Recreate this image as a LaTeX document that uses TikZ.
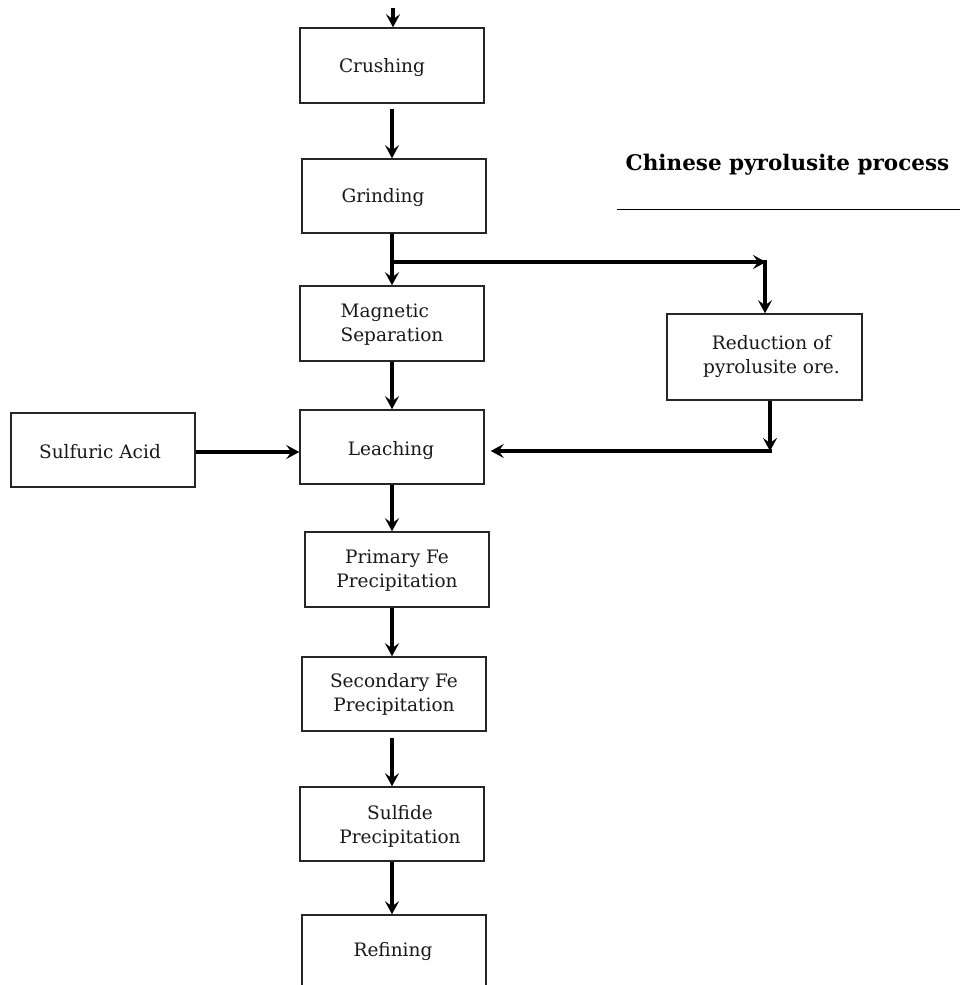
\documentclass[tikz,border=0pt]{standalone}
\usepackage{fontspec}
\setmainfont{DejaVu Serif}
\usetikzlibrary{arrows.meta}
\begin{document}
\begin{tikzpicture}[x=1pt,y=-1pt,
  box/.style={draw=black!85,line width=1.5pt,minimum width=184pt,minimum height=74pt,inner sep=0pt},
  lbl/.style={font=\fontsize{18.5}{24}\selectfont,align=center,inner sep=0pt,text=black!90},
  flow/.style={line width=4pt,-{Stealth[length=13pt,width=14pt,inset=5pt]}},
  plain/.style={line width=4pt}]
\useasboundingbox (0,0) rectangle (960,985);
% boxes
\node[box,minimum height=75pt,label={[lbl,xshift=-10pt,yshift=-2pt]center:Crushing}] (crush) at (392,65.5) {};
\node[box,label={[lbl,xshift=-11pt,yshift=-2pt]center:Grinding}] (grind) at (394,196) {};
\node[box,minimum height=75pt,label={[lbl,align=left,yshift=-1pt]center:Magnetic\\Separation}] (mag) at (392,323.5) {};
\node[box,label={[lbl,xshift=-1pt,yshift=-4pt]center:Leaching}] (leach) at (392,447) {};
\node[box,label={[lbl,xshift=-3pt,yshift=-2pt]center:Sulfuric Acid}] (acid) at (103,450) {};
\node[box,minimum width=195pt,minimum height=86pt,label={[lbl,xshift=7pt]center:Reduction of\\pyrolusite ore.}] (red) at (764.5,357) {};
\node[box,minimum height=75pt,label={[lbl,yshift=-1pt]center:Primary Fe\\Precipitation}] (prim) at (397,569.5) {};
\node[box,label={[lbl]center:Secondary Fe\\Precipitation}] (sec) at (394,694) {};
\node[box,label={[lbl,xshift=8pt,yshift=-2pt]center:Sulfide\\Precipitation}] (sulf) at (392,824) {};
\node[box,label={[lbl,xshift=-1pt,yshift=0pt]center:Refining}] (ref) at (394,952) {};
% title
\node[font=\bfseries\fontsize{21.5}{26}\selectfont,inner sep=0pt] (title) at (787.5,165) {Chinese pyrolusite process};
\coordinate (ul1) at (617,209);
\coordinate (ul2) at (960,209);
\draw[line width=1pt] (ul1) -- (ul2);
% spine
\coordinate (spine) at (392,0);
\coordinate (start) at (393,8);
\coordinate (branch) at (392,262);
\coordinate (corner1) at (765,262);
\coordinate (corner2) at (770,451);
% connectors
\draw[flow] (start) -- (start |- crush.north);
\draw[flow] ([yshift=-5pt]crush.south -| spine) -- (grind.north -| spine);
\draw[flow] (grind.south -| spine) -- (mag.north -| spine);
\draw[flow] (branch) -- ([xshift=1pt]corner1);
\draw[flow] ([yshift=2pt]corner1) -- (corner1 |- red.north);
\draw[flow] (mag.south -| spine) -- (leach.north -| spine);
\draw[flow] (red.south -| corner2) -- (corner2);
\draw[flow,shorten >=6pt] ([xshift=2pt]corner2) -- (leach.east |- corner2);
\draw[flow] (acid.east |- 0,452) -- (leach.west |- 0,452);
\draw[flow] (leach.south -| spine) -- (prim.north -| spine);
\draw[flow] (prim.south -| spine) -- (sec.north -| spine);
\draw[flow] ([yshift=-6pt]sec.south -| spine) -- (sulf.north -| spine);
\draw[flow] (sulf.south -| spine) -- (ref.north -| spine);
\end{tikzpicture}
\end{document}
